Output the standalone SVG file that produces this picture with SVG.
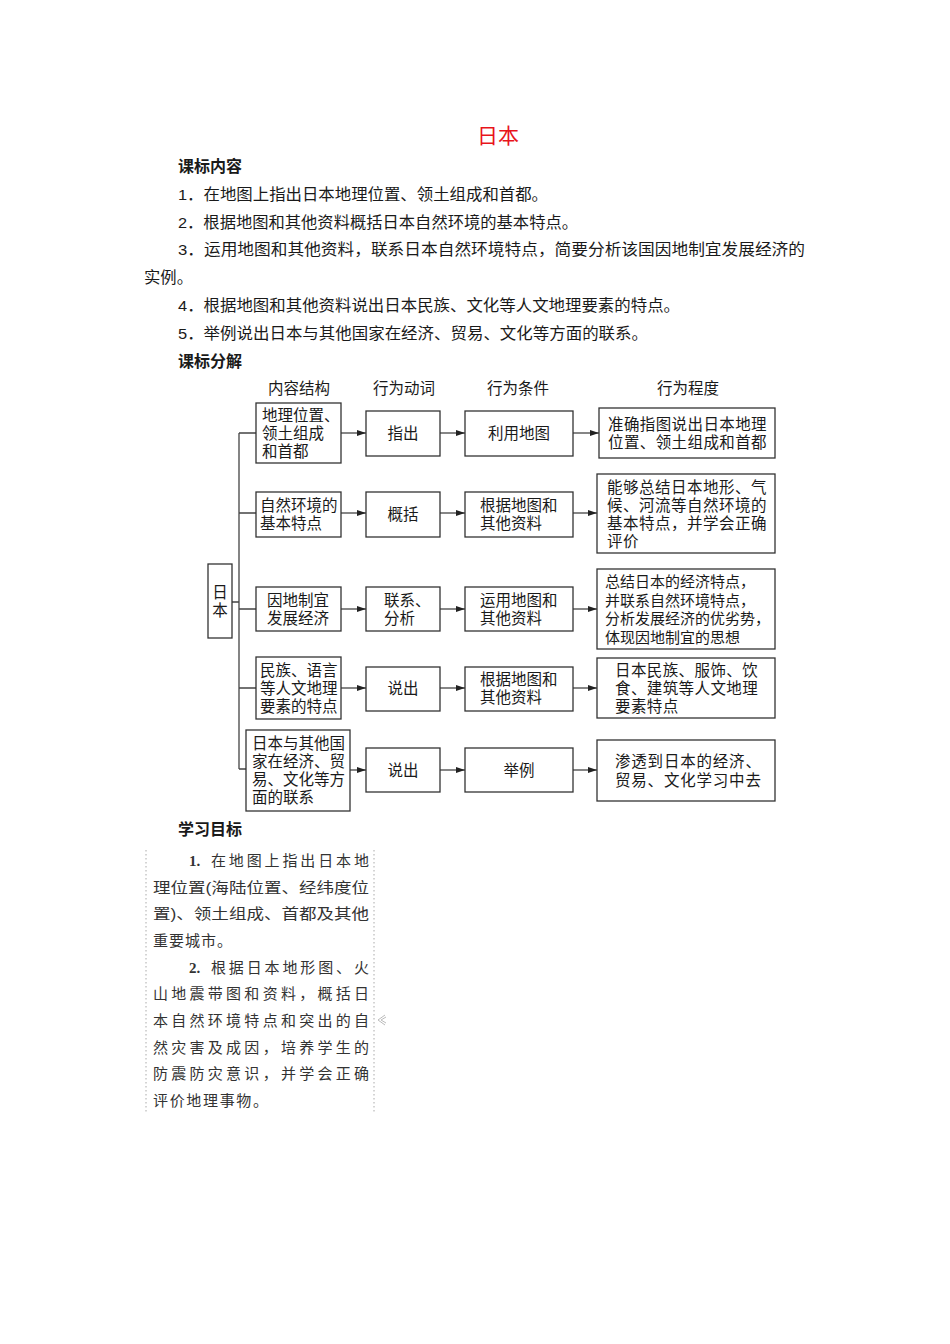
<svg xmlns="http://www.w3.org/2000/svg" width="950" height="1344" viewBox="0 0 950 1344">
<style>
text{font-family:"Liberation Sans","Noto Sans CJK SC",sans-serif;fill:#1a1a1a}
.t{font-size:15.5px}
.h{font-size:16px;font-weight:bold}
.b{font-size:15.5px}
.s{font-size:15px}
.c{text-anchor:middle}
.box{fill:#fff;stroke:#333;stroke-width:1.3}
.ln{fill:none;stroke:#444;stroke-width:1.3}
.ar{fill:none;stroke:#444;stroke-width:1.3;marker-end:url(#ah)}
.dot{stroke:#aaa;stroke-width:1;stroke-dasharray:1.5,2.5}
.o{font-size:15px;fill:#333}
.n{font-family:"Liberation Serif",serif;font-weight:bold;font-size:15px;fill:#333}
</style>
<defs>
<marker id="ah" markerWidth="9" markerHeight="6" refX="9" refY="3" orient="auto" markerUnits="userSpaceOnUse">
<path d="M0,0 L9,3 L0,6 z" fill="#222"/>
</marker>
</defs>
<rect width="950" height="1344" fill="#fff"/>

<text x="498" y="143" class="c" style="font-size:21px;fill:#e8141b">日本</text>

<text x="178" y="172" class="h">课标内容</text>
<text x="178" y="200" class="t" textLength="370" lengthAdjust="spacingAndGlyphs">1．在地图上指出日本地理位置、领土组成和首都。</text>
<text x="178" y="228" class="t" textLength="400" lengthAdjust="spacingAndGlyphs">2．根据地图和其他资料概括日本自然环境的基本特点。</text>
<text x="178" y="255" class="t" textLength="627" lengthAdjust="spacingAndGlyphs">3．运用地图和其他资料，联系日本自然环境特点，简要分析该国因地制宜发展经济的</text>
<text x="144" y="283" class="t" textLength="49" lengthAdjust="spacingAndGlyphs">实例。</text>
<text x="178" y="311" class="t" textLength="502" lengthAdjust="spacingAndGlyphs">4．根据地图和其他资料说出日本民族、文化等人文地理要素的特点。</text>
<text x="178" y="339" class="t" textLength="470" lengthAdjust="spacingAndGlyphs">5．举例说出日本与其他国家在经济、贸易、文化等方面的联系。</text>
<text x="178" y="367" class="h">课标分解</text>

<g id="headers">
<text x="299" y="394" class="b c">内容结构</text>
<text x="404" y="394" class="b c">行为动词</text>
<text x="518" y="394" class="b c">行为条件</text>
<text x="688" y="394" class="b c">行为程度</text>
</g>

<g id="connectors">
<path class="ln" d="M239,433 V769 M232,602 H239 M239,433 H256 M239,513 H256 M239,609 H256 M239,688 H256 M239,769 H246"/>
<path class="ar" d="M341,433 H366"/><path class="ar" d="M440,433 H465"/><path class="ar" d="M573,433 H599"/>
<path class="ar" d="M341,513 H366"/><path class="ar" d="M440,513 H465"/><path class="ar" d="M573,513 H597"/>
<path class="ar" d="M341,609 H366"/><path class="ar" d="M440,609 H465"/><path class="ar" d="M573,609 H597"/>
<path class="ar" d="M341,688 H366"/><path class="ar" d="M440,688 H465"/><path class="ar" d="M573,688 H597"/>
<path class="ar" d="M350,770 H366"/><path class="ar" d="M440,770 H465"/><path class="ar" d="M573,770 H597"/>
</g>

<g id="root">
<rect class="box" x="208" y="564" width="24" height="74"/>
<text class="b c"><tspan x="220" y="598">日</tspan><tspan x="220" y="616">本</tspan></text>
</g>

<g id="c1"><rect class="box" x="256" y="403" width="85" height="60"/>
<text class="b"><tspan x="262" y="421">地理位置、</tspan><tspan x="262" y="439">领土组成</tspan><tspan x="262" y="457">和首都</tspan></text></g>
<g id="v1"><rect class="box" x="366" y="411" width="74" height="45"/><text x="403" y="439" class="b c">指出</text></g>
<g id="k1"><rect class="box" x="465" y="411" width="108" height="45"/><text x="519" y="439" class="b c">利用地图</text></g>
<g id="r1"><rect class="box" x="599" y="408" width="176" height="50"/>
<text class="b" style="letter-spacing:0.4px"><tspan x="608" y="430">准确指图说出日本地理</tspan><tspan x="608" y="448">位置、领土组成和首都</tspan></text></g>

<g id="c2"><rect class="box" x="256" y="492" width="85" height="45"/>
<text class="b"><tspan x="260" y="511">自然环境的</tspan><tspan x="260" y="529">基本特点</tspan></text></g>
<g id="v2"><rect class="box" x="366" y="492" width="74" height="45"/><text x="403" y="520" class="b c">概括</text></g>
<g id="k2"><rect class="box" x="465" y="492" width="108" height="45"/>
<text class="b"><tspan x="480" y="511">根据地图和</tspan><tspan x="480" y="529">其他资料</tspan></text></g>
<g id="r2"><rect class="box" x="597" y="474" width="178" height="79"/>
<text class="b" style="letter-spacing:0.5px"><tspan x="607" y="493">能够总结日本地形、气</tspan><tspan x="607" y="511">候、河流等自然环境的</tspan><tspan x="607" y="529">基本特点，并学会正确</tspan><tspan x="607" y="547">评价</tspan></text></g>

<g id="c3"><rect class="box" x="256" y="587" width="85" height="44"/>
<text class="b"><tspan x="267" y="606">因地制宜</tspan><tspan x="267" y="624">发展经济</tspan></text></g>
<g id="v3"><rect class="box" x="366" y="587" width="74" height="44"/>
<text class="b"><tspan x="384" y="606">联系、</tspan><tspan x="384" y="624">分析</tspan></text></g>
<g id="k3"><rect class="box" x="465" y="587" width="108" height="44"/>
<text class="b"><tspan x="480" y="606">运用地图和</tspan><tspan x="480" y="624">其他资料</tspan></text></g>
<g id="r3"><rect class="box" x="597" y="569" width="178" height="80"/>
<text class="s"><tspan x="605" y="587">总结日本的经济特点，</tspan><tspan x="605" y="606">并联系自然环境特点，</tspan><tspan x="605" y="624">分析发展经济的优劣势，</tspan><tspan x="605" y="643">体现因地制宜的思想</tspan></text></g>

<g id="c4"><rect class="box" x="256" y="657" width="85" height="62"/>
<text class="b"><tspan x="260" y="676">民族、语言</tspan><tspan x="260" y="694">等人文地理</tspan><tspan x="260" y="712">要素的特点</tspan></text></g>
<g id="v4"><rect class="box" x="366" y="667" width="74" height="44"/><text x="403" y="694" class="b c">说出</text></g>
<g id="k4"><rect class="box" x="465" y="667" width="108" height="44"/>
<text class="b"><tspan x="480" y="685">根据地图和</tspan><tspan x="480" y="703">其他资料</tspan></text></g>
<g id="r4"><rect class="box" x="597" y="658" width="178" height="60"/>
<text class="b" style="letter-spacing:0.4px"><tspan x="615" y="676">日本民族、服饰、饮</tspan><tspan x="615" y="694">食、建筑等人文地理</tspan><tspan x="615" y="712">要素特点</tspan></text></g>

<g id="c5"><rect class="box" x="246" y="730" width="104" height="81"/>
<text class="b"><tspan x="252" y="749">日本与其他国</tspan><tspan x="252" y="767">家在经济、贸</tspan><tspan x="252" y="785">易、文化等方</tspan><tspan x="252" y="803">面的联系</tspan></text></g>
<g id="v5"><rect class="box" x="366" y="748" width="74" height="44"/><text x="403" y="776" class="b c">说出</text></g>
<g id="k5"><rect class="box" x="465" y="748" width="108" height="44"/><text x="519" y="776" class="b c">举例</text></g>
<g id="r5"><rect class="box" x="597" y="740" width="178" height="61"/>
<text class="b" style="letter-spacing:0.8px"><tspan x="615" y="767">渗透到日本的经济、</tspan><tspan x="615" y="786">贸易、文化学习中去</tspan></text></g>

<text x="178" y="835" class="h">学习目标</text>
<line class="dot" x1="146" y1="850" x2="146" y2="1113"/>
<line class="dot" x1="374" y1="850" x2="374" y2="1113"/>
<g id="objectives">
<text x="189" y="866" class="n">1.</text>
<text x="211" y="866" class="o" textLength="158" lengthAdjust="spacing">在地图上指出日本地</text>
<text x="153" y="893" class="o" textLength="216" lengthAdjust="spacingAndGlyphs">理位置(海陆位置、经纬度位</text>
<text x="153" y="919" class="o" textLength="216" lengthAdjust="spacingAndGlyphs">置)、领土组成、首都及其他</text>
<text x="153" y="946" class="o" textLength="79" lengthAdjust="spacing">重要城市。</text>
<text x="189" y="973" class="n">2.</text>
<text x="211" y="973" class="o" textLength="158" lengthAdjust="spacing">根据日本地形图、火</text>
<text x="153" y="999" class="o" textLength="216" lengthAdjust="spacing">山地震带图和资料，概括日</text>
<text x="153" y="1026" class="o" textLength="216" lengthAdjust="spacing">本自然环境特点和突出的自</text>
<text x="153" y="1053" class="o" textLength="216" lengthAdjust="spacing">然灾害及成因，培养学生的</text>
<text x="153" y="1079" class="o" textLength="216" lengthAdjust="spacing">防震防灾意识，并学会正确</text>
<text x="153" y="1106" class="o" textLength="115" lengthAdjust="spacing">评价地理事物。</text>
</g>
<path d="M385,1015 L378,1020 L385,1025 M386,1017 L381,1020 L386,1023" fill="none" stroke="#bbb" stroke-width="1"/>
</svg>
